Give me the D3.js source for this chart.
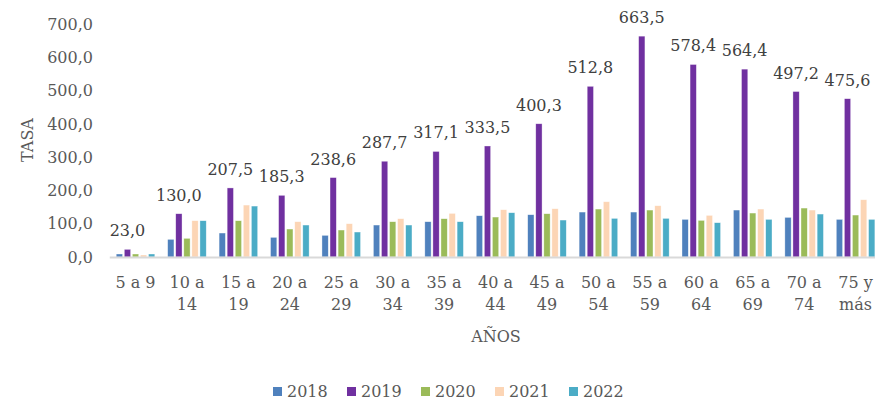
<!DOCTYPE html>
<html>
<head>
<meta charset="utf-8">
<script src="https://cdn.jsdelivr.net/npm/d3@7"></script>
<style>
  body { margin: 0; background: #fff; }
  svg { display: block; font-family: "DejaVu Serif", serif; }
</style>
</head>
<body>
<svg width="875" height="400"></svg>
<script>
const categories = ["5 a 9", "10 a 14", "15 a 19", "20 a 24", "25 a 29", "30 a 34", "35 a 39",
  "40 a 44", "45 a 49", "50 a 54", "55 a 59", "60 a 64", "65 a 69", "70 a 74", "75 y más"];
const years = ["2018", "2019", "2020", "2021", "2022"];
const colors = ["#4F81BD", "#7030A0", "#9BBB59", "#FCD5B5", "#4BACC6"];

const v2018 = [9, 53, 72, 59, 65, 96, 106, 124, 127, 135, 135, 113, 141, 119, 113];
const v2019 = [23.0, 130.0, 207.5, 185.3, 238.6, 287.7, 317.1, 333.5, 400.3, 512.8, 663.5, 578.4, 564.4, 497.2, 475.6];
const v2020 = [9, 56, 109, 84, 81, 106, 115, 120, 130, 144, 141, 110, 132, 147, 126];
const v2021 = [6, 109, 156, 106, 100, 115, 131, 142, 145, 166, 154, 125, 144, 141, 172];
const v2022 = [9, 109, 153, 96, 75, 96, 106, 133, 111, 116, 116, 103, 113, 129, 113];
const yTicks = [0, 100, 200, 300, 400, 500, 600, 700];

const series = [v2018, v2019, v2020, v2021, v2022];
const svg = d3.select("svg");

const fmt = v => d3.format(".1f")(v).replace(".", ",");

// scales
const x0 = d3.scaleBand().domain(categories).range([109.8, 881.3])
  .paddingInner(0.25).paddingOuter(0.125);
const x1 = d3.scaleBand().domain(years).range([0, x0.bandwidth()]).paddingInner(0.22);
const y = d3.scaleLinear().domain([0, 700]).range([257, 24]);

// y axis labels (no line)
svg.append("g").selectAll("text")
  .data(yTicks)
  .enter().append("text")
  .attr("x", 93)
  .attr("y", d => y(d))
  .attr("dy", "0.36em")
  .attr("text-anchor", "end")
  .attr("font-size", 16)
  .attr("fill", "#595959")
  .text(d => fmt(d));

svg.append("text")
  .attr("transform", "translate(33,140) rotate(-90)")
  .attr("text-anchor", "middle")
  .attr("font-size", 16)
  .attr("fill", "#595959")
  .text("TASA");

// bars
const groups = svg.append("g").selectAll("g")
  .data(categories)
  .enter().append("g")
  .attr("transform", d => `translate(${x0(d)},0)`);

groups.selectAll("rect")
  .data((c, i) => years.map((yr, j) => ({ yr: yr, v: series[j][i], color: colors[j] })))
  .enter().append("rect")
  .attr("x", d => x1(d.yr))
  .attr("width", x1.bandwidth())
  .attr("y", d => y(d.v))
  .attr("height", d => y(0) - y(d.v))
  .attr("fill", d => d.color)
  .attr("stroke", "#ffffff")
  .attr("stroke-opacity", 0.6)
  .attr("stroke-width", 0.6);

// baseline
svg.append("line")
  .attr("x1", 109.8).attr("x2", 875)
  .attr("y1", y(0) + 0.5).attr("y2", y(0) + 0.5)
  .attr("stroke", "#D9D9D9")
  .attr("stroke-width", 2);

// data labels on 2019
svg.append("g").selectAll("text")
  .data(v2019)
  .enter().append("text")
  .attr("x", (d, i) => x0(categories[i]) + x1("2019") + x1.bandwidth() / 2)
  .attr("y", d => y(d) - 13)
  .attr("text-anchor", "middle")
  .attr("font-size", 16)
  .attr("fill", "#404040")
  .text(d => fmt(d));

// category labels, wrapped when too wide
const catText = svg.append("g").selectAll("text")
  .data(categories)
  .enter().append("text")
  .attr("x", d => x0(d) + x0.bandwidth() / 2)
  .attr("y", 288)
  .attr("text-anchor", "middle")
  .attr("font-size", 16)
  .attr("fill", "#595959")
  .text(d => d);

catText.each(function(d) {
  const t = d3.select(this);
  if (this.getComputedTextLength() > x0.step()) {
    const words = d.split(" ");
    t.text(null);
    const cx = x0(d) + x0.bandwidth() / 2;
    t.append("tspan").attr("x", cx).text(words.slice(0, 2).join(" "));
    t.append("tspan").attr("x", cx).attr("dy", 22).text(words.slice(2).join(" "));
  }
});

svg.append("text")
  .attr("x", 496)
  .attr("y", 342)
  .attr("text-anchor", "middle")
  .attr("font-size", 16)
  .attr("fill", "#595959")
  .text("AÑOS");

// legend
const legend = svg.append("g").selectAll("g")
  .data(years)
  .enter().append("g")
  .attr("transform", (d, i) => `translate(${273 + i * 74},0)`);

legend.append("rect")
  .attr("x", 0).attr("y", 387)
  .attr("width", 9).attr("height", 9)
  .attr("fill", (d, i) => colors[i]);

legend.append("text")
  .attr("x", 14)
  .attr("y", 397)
  .attr("font-size", 16)
  .attr("fill", "#595959")
  .text(d => d);
</script>
</body>
</html>
